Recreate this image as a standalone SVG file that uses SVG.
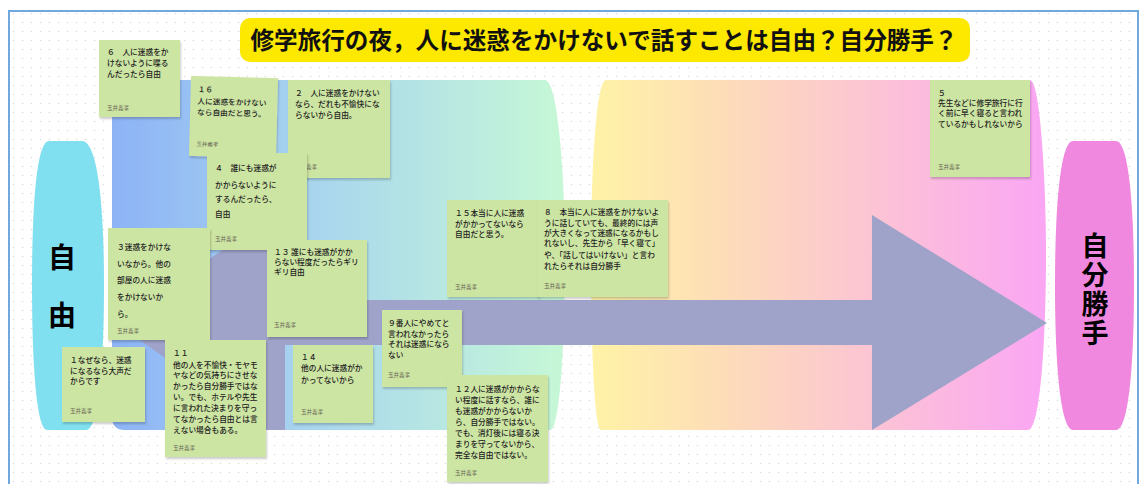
<svg xmlns="http://www.w3.org/2000/svg" width="1139" height="484" viewBox="0 0 1139 484">
<defs>
  <pattern id="dots" x="0" y="0" width="9" height="9" patternUnits="userSpaceOnUse">
    <circle cx="4.5" cy="4.5" r="0.8" fill="#dcdcdc"/>
  </pattern>
  <linearGradient id="gBlue" x1="112" y1="0" x2="565" y2="0" gradientUnits="userSpaceOnUse">
    <stop offset="0" stop-color="#8db3f6"/>
    <stop offset="0.45" stop-color="#a9d6ee"/>
    <stop offset="1" stop-color="#c6f8d6"/>
  </linearGradient>
  <linearGradient id="gWarm" x1="591" y1="0" x2="1046" y2="0" gradientUnits="userSpaceOnUse">
    <stop offset="0" stop-color="#fff3a6"/>
    <stop offset="0.3" stop-color="#fddcb9"/>
    <stop offset="0.62" stop-color="#fcc4d4"/>
    <stop offset="1" stop-color="#faa6f4"/>
  </linearGradient>
  <filter id="sh" x="-10%" y="-10%" width="125%" height="125%">
    <feDropShadow dx="1" dy="2" stdDeviation="1.2" flood-color="#000" flood-opacity="0.2"/>
  </filter>
  <style>
    .note{fill:#cde5a2;filter:url(#sh);}
    .t{font-family:"Noto Sans CJK JP","Noto Sans",sans-serif;fill:#222;font-size:7.7px;font-weight:500;}
    .a{font-family:"Noto Sans CJK JP","Noto Sans",sans-serif;fill:#6a6a5a;font-size:5.5px;}
    .big{font-family:"Noto Sans CJK JP","Noto Sans",sans-serif;fill:#000;font-weight:bold;writing-mode:vertical-rl;}
  </style>
</defs>

<rect x="0" y="0" width="1139" height="484" fill="#ffffff"/>
<rect x="9" y="11" width="1128" height="473" fill="url(#dots)"/>
<rect x="9" y="11" width="1129" height="476" fill="none" stroke="#6fa8dc" stroke-width="2"/>

<g id="title">
  <rect x="240" y="18" width="730" height="44" rx="10" fill="#fde800"/>
  <text x="604" y="48.5" font-family="'Noto Sans CJK JP','Noto Sans',sans-serif" font-size="23.6" font-weight="bold" text-anchor="middle" fill="#111">修学旅行の夜，人に迷惑をかけないで話すことは自由？自分勝手？</text>
</g>

<g id="region-free">
  <path d="M125,80 L545,80 C558,80 565,180 565,255 C565,340 560,430 550,430 L125,430 Q112,430 112,417 L112,93 Q112,80 125,80 Z" fill="url(#gBlue)"/>
</g>
<g id="region-selfish">
  <path d="M606,80 L1030,80 C1040,80 1046,180 1046,255 C1046,340 1040,430 1028,430 L601,430 C594,430 591,340 591,255 C591,170 596,80 606,80 Z" fill="url(#gWarm)"/>
</g>

<g id="connectors">
  <path d="M115,322 L275,215 L292,215 L292,300 L872,300 L872,215 L1047,323 L872,430 L872,345 L285,345 L285,430 L265,430 Z" fill="#9fa3c9"/>
</g>

<g id="node-jiyu">
  <path d="M49,141 L82,141 C97,141 104,200 104,285 C104,370 98,430 86,430 L47,430 C37,430 32,370 32,285 C32,200 37,141 49,141 Z" fill="#80e0ef"/>
  <text class="big" x="62" y="243" font-size="28" letter-spacing="30">自由</text>
</g>

<g id="node-jibunkatte">
  <path d="M1073,141 L1116,141 C1128,141 1134,200 1134,285 C1134,370 1128,430 1116,430 L1073,430 C1061,430 1055,370 1055,285 C1055,200 1061,141 1073,141 Z" fill="#ef88de"/>
  <text class="big" x="1095" y="232" font-size="27" letter-spacing="2">自分勝手</text>
</g>

<g id="note-6">
  <rect class="note" x="99" y="40" width="81" height="77"/>
  <text class="t" x="107" y="55">６　人に迷惑をか</text>
  <text class="t" x="107" y="66">けないように喋る</text>
  <text class="t" x="107" y="77">んだったら自由</text>
  <text class="a" x="107" y="110">玉井義孝</text>
</g>

<g id="note-2">
  <rect class="note" x="288" y="80" width="102" height="98"/>
  <text class="t" x="295" y="96">２　人に迷惑をかけない</text>
  <text class="t" x="295" y="107">なら、だれも不愉快にな</text>
  <text class="t" x="295" y="118">らないから自由。</text>
  <text class="a" x="295" y="169">玉井義孝</text>
</g>

<g id="note-16" transform="rotate(1.5 233 117)">
  <rect class="note" x="190" y="77" width="87" height="80"/>
  <text class="t" x="197" y="93" font-size="8">１６</text>
  <text class="t" x="197" y="105" font-size="8">人に迷惑をかけない</text>
  <text class="t" x="197" y="116" font-size="8">なら自由だと思う。</text>
  <text class="a" x="197" y="147">玉井義孝</text>
</g>

<g id="note-4">
  <rect class="note" x="207" y="153" width="100" height="97"/>
  <text class="t" x="215" y="171" font-size="11">４　誰にも迷惑が</text>
  <text class="t" x="215" y="188" font-size="11">かからないように</text>
  <text class="t" x="215" y="202" font-size="11">するんだったら、</text>
  <text class="t" x="215" y="217" font-size="11">自由</text>
  <text class="a" x="215" y="241">玉井義孝</text>
</g>

<g id="note-3">
  <rect class="note" x="108" y="228" width="102" height="112"/>
  <text class="t" x="117" y="250" font-size="12">３迷惑をかけな</text>
  <text class="t" x="117" y="267" font-size="12">いなから。他の</text>
  <text class="t" x="117" y="283" font-size="12">部屋の人に迷惑</text>
  <text class="t" x="117" y="300" font-size="12">をかけないか</text>
  <text class="t" x="117" y="317" font-size="12">ら。</text>
  <text class="a" x="117" y="333">玉井義孝</text>
</g>

<g id="note-13">
  <rect class="note" x="267" y="240" width="100" height="97"/>
  <text class="t" x="274" y="255">１３ 誰にも迷惑がかか</text>
  <text class="t" x="274" y="265">らない程度だったらギリ</text>
  <text class="t" x="274" y="275">ギリ自由</text>
  <text class="a" x="274" y="327">玉井義孝</text>
</g>

<g id="note-1">
  <rect class="note" x="62" y="347" width="83" height="75"/>
  <text class="t" x="70" y="363">１なぜなら、迷惑</text>
  <text class="t" x="70" y="374">になるなら大声だ</text>
  <text class="t" x="70" y="384">からです</text>
  <text class="a" x="70" y="413">玉井義孝</text>
</g>

<g id="note-11">
  <rect class="note" x="165" y="340" width="101" height="117"/>
  <text class="t" x="173" y="356">１１</text>
  <text class="t" x="173" y="368">他の人を不愉快・モヤモ</text>
  <text class="t" x="173" y="378">ヤなどの気持ちにさせな</text>
  <text class="t" x="173" y="389">かったら自分勝手ではな</text>
  <text class="t" x="173" y="400">い。でも、ホテルや先生</text>
  <text class="t" x="173" y="411">に言われた決まりを守っ</text>
  <text class="t" x="173" y="422">てなかったら自由とは言</text>
  <text class="t" x="173" y="433">えない場合もある。</text>
  <text class="a" x="173" y="450">玉井義孝</text>
</g>

<g id="note-14">
  <rect class="note" x="293" y="345" width="80" height="78"/>
  <text class="t" x="301" y="360">１４</text>
  <text class="t" x="301" y="371">他の人に迷惑がか</text>
  <text class="t" x="301" y="383">かってないから</text>
  <text class="a" x="301" y="414">玉井義孝</text>
</g>

<g id="note-9">
  <rect class="note" x="382" y="310" width="80" height="77"/>
  <text class="t" x="388" y="326">９番人にやめてと</text>
  <text class="t" x="388" y="337">言われなかったら</text>
  <text class="t" x="388" y="347">それは迷惑になら</text>
  <text class="t" x="388" y="358">ない</text>
  <text class="a" x="388" y="377">玉井義孝</text>
</g>

<g id="note-12">
  <rect class="note" x="447" y="375" width="101" height="107"/>
  <text class="t" x="455" y="392">１２人に迷惑がかからな</text>
  <text class="t" x="455" y="403">い程度に話すなら、誰に</text>
  <text class="t" x="455" y="414">も迷惑がかからないか</text>
  <text class="t" x="455" y="425">ら、自分勝手ではない。</text>
  <text class="t" x="455" y="436">でも、消灯後には寝る決</text>
  <text class="t" x="455" y="447">まりを守ってないから、</text>
  <text class="t" x="455" y="458">完全な自由ではない。</text>
  <text class="a" x="455" y="475">玉井義孝</text>
</g>

<g id="note-15">
  <rect class="note" x="447" y="200" width="92" height="97"/>
  <text class="t" x="455" y="216" font-size="8">１５本当に人に迷惑</text>
  <text class="t" x="455" y="227" font-size="8">がかかってないなら</text>
  <text class="t" x="455" y="237" font-size="8">自由だと思う。</text>
  <text class="a" x="455" y="289">玉井義孝</text>
</g>

<g id="note-8">
  <rect class="note" x="537" y="200" width="131" height="97"/>
  <text class="t" x="544" y="215">８　本当に人に迷惑をかけないよ</text>
  <text class="t" x="544" y="226">うに話していても、最終的には声</text>
  <text class="t" x="544" y="236">が大きくなって迷惑になるかもし</text>
  <text class="t" x="544" y="246">れないし、先生から「早く寝て」</text>
  <text class="t" x="544" y="258">や、「話してはいけない」と言わ</text>
  <text class="t" x="544" y="269">れたらそれは自分勝手</text>
  <text class="a" x="544" y="288">玉井義孝</text>
</g>

<g id="note-5">
  <rect class="note" x="930" y="80" width="100" height="97"/>
  <text class="t" x="938" y="96">５</text>
  <text class="t" x="938" y="106">先生などに修学旅行に行</text>
  <text class="t" x="938" y="116">く前に早く寝ると言われ</text>
  <text class="t" x="938" y="127">ているかもしれないから</text>
  <text class="a" x="938" y="169">玉井義孝</text>
</g>
</svg>
